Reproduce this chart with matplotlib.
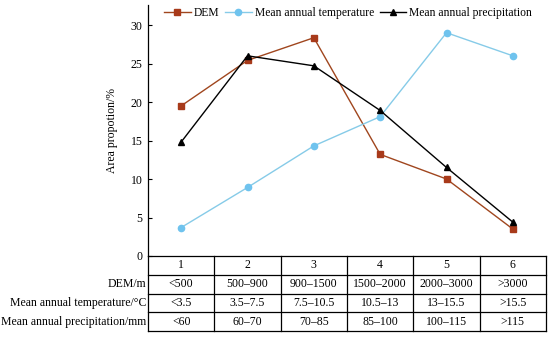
import matplotlib
matplotlib.use("Agg")
import matplotlib.pyplot as plt

plt.rcParams['font.family'] = ['Liberation Serif', 'DejaVu Serif']
plt.rcParams['font.size'] = 8.5

classes = [1, 2, 3, 4, 5, 6]
dem = [19.5, 25.4, 28.35, 13.2, 10.0, 3.5]
temperature = [3.7, 8.9, 14.3, 18.1, 29.0, 26.0]
precipitation = [14.8, 26.0, 24.7, 18.9, 11.5, 4.4]

row_labels = ["DEM/m", "Mean annual temperature/°C", "Mean annual precipitation/mm"]
dem_ranges = ["<500", "500–900", "900–1500", "1500–2000", "2000–3000", ">3000"]
temp_ranges = ["<3.5", "3.5–7.5", "7.5–10.5", "10.5–13", "13–15.5", ">15.5"]
prec_ranges = ["<60", "60–70", "70–85", "85–100", "100–115", ">115"]

W, H = 550, 337
fig = plt.figure(figsize=(W / 100, H / 100), dpi=100)

x0, x1 = 148, 546
ax = fig.add_axes([x0 / W, (H - 256) / H, (x1 - x0) / W, (256 - 5) / H])
ax.plot(classes, dem, color='#a0461e', lw=1.0, marker='s', ms=4.5,
        mfc='#a83a1a', mec='#a83a1a', label='DEM')
ax.plot(classes, temperature, color='#86cbe8', lw=1.0, marker='o', ms=4.5,
        mfc='#6fc3ee', mec='#6fc3ee', label='Mean annual temperature')
ax.plot(classes, precipitation, color='black', lw=1.0, marker='^', ms=4.5,
        label='Mean annual precipitation')
ax.set_xlim(0.5, 6.5)
ax.set_ylim(0, 32.6)
ax.set_yticks([0, 5, 10, 15, 20, 25, 30])
ax.tick_params(axis='y', direction='in', length=3, width=0.8, pad=4)
ax.set_xticks([])
for s in ['top', 'right', 'bottom']:
    ax.spines[s].set_visible(False)
ax.spines['left'].set_linewidth(0.9)
ax.set_ylabel('Area propotion/%', labelpad=9)
ax.legend(loc='upper left', bbox_to_anchor=(164 / W, (H - 7) / H), bbox_transform=fig.transFigure,
          ncol=3, frameon=False, handlelength=2.3, handletextpad=0.25,
          columnspacing=0.5, borderaxespad=0.0, borderpad=0.0, fontsize=8.35)

# table
tax = fig.add_axes([x0 / W, (H - 331) / H, (x1 - x0) / W, 75 / H])
tax.set_xlim(0.5, 6.5)
tax.set_ylim(0, 4)
tax.axis('off')
for y in range(5):
    tax.plot([0.5, 6.5], [y, y], color='black', lw=0.9, clip_on=False)
for xb in [0.5 + i for i in range(7)]:
    tax.plot([xb, xb], [0, 4], color='black', lw=0.9, clip_on=False)
rows = [[str(c) for c in classes], dem_ranges, temp_ranges, prec_ranges]
for r, vals in enumerate(rows):
    yc = 3.5 - r
    for c, v in zip(classes, vals):
        tax.text(c, yc, v, ha='center', va='center')
for r, lab in enumerate(row_labels):
    tax.annotate(lab, xy=(0.5, 2.5 - r), xytext=(-1, 0), textcoords='offset points',
                 ha='right', va='center', annotation_clip=False)

fig.savefig('out.png', dpi=100)
